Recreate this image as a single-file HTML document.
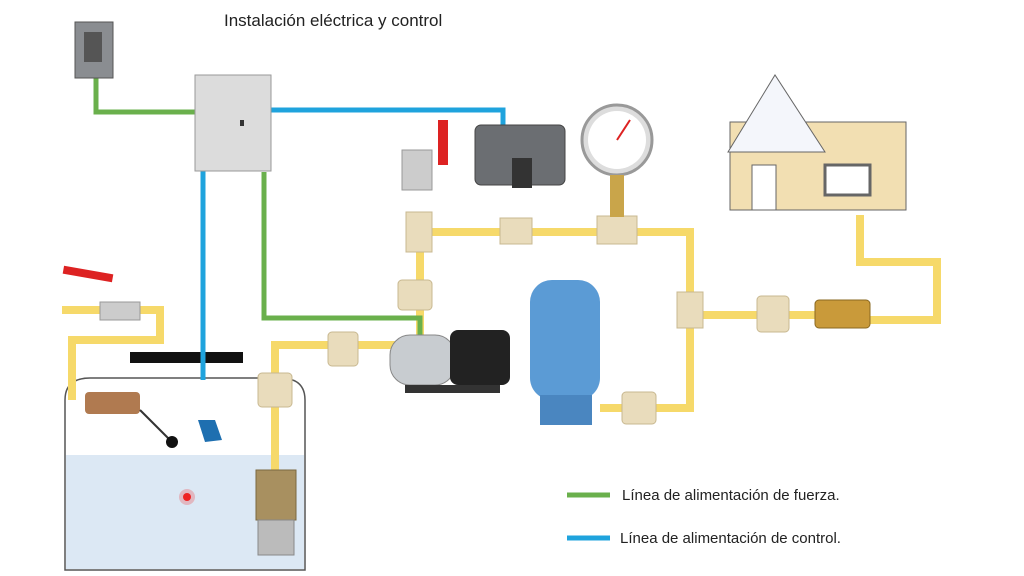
<!DOCTYPE html>
<html><head><meta charset="utf-8"><style>
html,body{margin:0;padding:0;background:#fff;width:1024px;height:576px;overflow:hidden}
svg{display:block}
text{font-family:"Liberation Sans",sans-serif}
</style></head><body>
<svg width="1024" height="576" viewBox="0 0 1024 576" xmlns="http://www.w3.org/2000/svg">
<rect width="1024" height="576" fill="#fff"/>
<text x="224" y="26" font-size="17" fill="#222">Instalación eléctrica y control</text>

<!-- tank -->
<path d="M65 400 Q65 378 90 378 L280 378 Q305 378 305 400 L305 570 L65 570 Z" fill="#fff" stroke="#555" stroke-width="1.5"/>
<path d="M66 455 L304 455 L304 569 L66 569 Z" fill="#dce8f4"/>
<rect x="130" y="352" width="113" height="11" fill="#111"/>
<circle cx="187" cy="497" r="4" fill="#e22"/><circle cx="187" cy="497" r="8" fill="#e22" opacity="0.25"/>

<!-- pipes -->
<g fill="none" stroke="#f6d96a" stroke-width="8" stroke-linejoin="miter">
<path d="M62 310 L160 310 L160 340 L72 340 L72 400"/>
<path d="M275 470 L275 345 L395 345"/>
<path d="M420 340 L420 232 L690 232 L690 408 L600 408"/>
<path d="M690 315 L820 315"/>
<path d="M860 215 L860 262 L937 262 L937 320 L870 320"/>
</g>

<!-- electric lines -->
<g fill="none" stroke-width="5">
<path d="M96 78 L96 112 L195 112" stroke="#6ab04c"/>
<path d="M264 172 L264 318 L420 318 L420 335" stroke="#6ab04c"/>
<path d="M270 110 L503 110 L503 130" stroke="#1fa3dd"/>
<path d="M203 170 L203 380" stroke="#1fa3dd"/>
</g>

<!-- breaker -->
<rect x="75" y="22" width="38" height="56" fill="#8a8d91" stroke="#555"/>
<rect x="84" y="32" width="18" height="30" fill="#555"/>
<!-- panel -->
<rect x="195" y="75" width="76" height="96" fill="#dcdcdc" stroke="#999"/>
<rect x="240" y="120" width="4" height="6" fill="#333"/>

<!-- fittings -->
<g fill="#e9dcbc" stroke="#c8b890">
<rect x="406" y="212" width="26" height="40"/>
<rect x="500" y="218" width="32" height="26"/>
<rect x="597" y="216" width="40" height="28"/>
<rect x="398" y="280" width="34" height="30" rx="4"/>
<rect x="328" y="332" width="30" height="34" rx="4"/>
<rect x="258" y="373" width="34" height="34" rx="4"/>
<rect x="622" y="392" width="34" height="32" rx="4"/>
<rect x="677" y="292" width="26" height="36"/>
<rect x="757" y="296" width="32" height="36" rx="4"/>
</g>

<!-- check valve in tank -->
<rect x="256" y="470" width="40" height="50" fill="#a89060" stroke="#7a6840"/>
<rect x="258" y="520" width="36" height="35" fill="#bbb" stroke="#888"/>
<!-- float valve -->
<rect x="85" y="392" width="55" height="22" rx="4" fill="#b07a50"/>
<line x1="140" y1="410" x2="170" y2="440" stroke="#333" stroke-width="2"/>
<circle cx="172" cy="442" r="6" fill="#111"/>
<!-- float switch -->
<path d="M198 420 L215 420 L222 440 L205 442 Z" fill="#1e6fb0"/>
<!-- left ball valve -->
<rect x="100" y="302" width="40" height="18" fill="#ccc" stroke="#999"/>
<rect x="63" y="270" width="50" height="8" fill="#d22" transform="rotate(10 88 274)"/>
<!-- top ball valve -->
<rect x="402" y="150" width="30" height="40" fill="#ccc" stroke="#999"/>
<rect x="438" y="120" width="10" height="45" fill="#d22"/>

<!-- pressure switch -->
<rect x="475" y="125" width="90" height="60" rx="6" fill="#6b6e72" stroke="#444"/>
<rect x="512" y="158" width="20" height="30" fill="#333"/>
<!-- gauge -->
<circle cx="617" cy="140" r="35" fill="#ddd" stroke="#999" stroke-width="3"/>
<circle cx="617" cy="140" r="29" fill="#fff"/>
<line x1="617" y1="140" x2="630" y2="120" stroke="#d22" stroke-width="2"/>
<rect x="610" y="175" width="14" height="42" fill="#c9a54a"/>

<!-- pump -->
<rect x="390" y="335" width="65" height="50" rx="20" fill="#c8ccd0" stroke="#888"/>
<rect x="450" y="330" width="60" height="55" rx="8" fill="#222"/>
<rect x="405" y="385" width="95" height="8" fill="#333"/>

<!-- blue tank -->
<rect x="530" y="280" width="70" height="120" rx="22" fill="#5b9bd5"/>
<rect x="540" y="395" width="52" height="30" fill="#4a86c0"/>

<!-- house -->
<rect x="730" y="122" width="176" height="88" fill="#f2dfb2" stroke="#666"/>
<polygon points="728,152 775,75 825,152" fill="#f4f6fb" stroke="#666"/>
<rect x="752" y="165" width="24" height="45" fill="#fff" stroke="#666"/>
<rect x="825" y="165" width="45" height="30" fill="#fff" stroke="#666" stroke-width="3"/>
<!-- check valve -->
<rect x="815" y="300" width="55" height="28" rx="4" fill="#c99a3a" stroke="#8a6820"/>

<!-- legend -->
<line x1="567" y1="495" x2="610" y2="495" stroke="#6ab04c" stroke-width="5"/>
<text x="622" y="500" font-size="15" fill="#222">Línea de alimentación de fuerza.</text>
<line x1="567" y1="538" x2="610" y2="538" stroke="#1fa3dd" stroke-width="5"/>
<text x="620" y="543" font-size="15" fill="#222">Línea de alimentación de control.</text>
</svg>
</body></html>
